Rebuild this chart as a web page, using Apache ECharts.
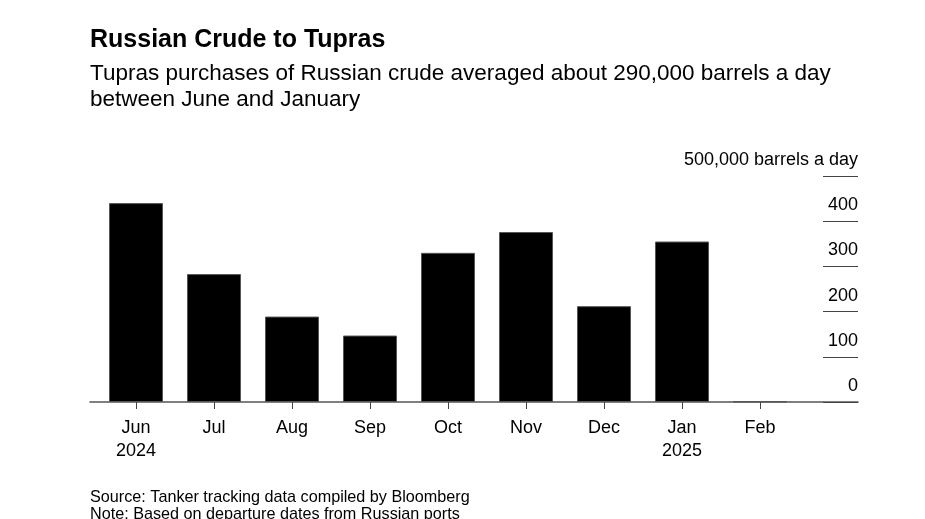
<!DOCTYPE html>
<html><head><meta charset="utf-8">
<script src="https://cdn.jsdelivr.net/npm/echarts@6/dist/echarts.min.js"></script>
<style>html,body{margin:0;padding:0;background:#fff}#c{width:925px;height:519px}</style>
</head><body><div id="c"></div>
<script>
const categories = ['Jun\n2024','Jul','Aug','Sep','Oct','Nov','Dec','Jan\n2025','Feb'];
const purchases = [440, 283, 189, 147, 330, 376, 212, 355, 1];
const yTicks = [0, 100, 200, 300, 400, 500];
const unitLabel = '500,000 barrels a day';
const FONT = 'Liberation Sans, Arial, sans-serif';

const chart = echarts.init(document.getElementById('c'));
chart.setOption({
  animation: false,
  backgroundColor: '#fff',
  title: [
    {text: 'Russian Crude to Tupras', left: 85, top: 23,
     textStyle: {fontFamily: FONT, fontSize: 25, fontWeight: 'bold', color: '#000'}},
    {text: 'Tupras purchases of Russian crude averaged about 290,000 barrels a day\nbetween June and January',
     left: 85, top: 56,
     textStyle: {fontFamily: FONT, fontSize: 22.5, fontWeight: 'normal', color: '#000', lineHeight: 26}},
    {text: 'Source: Tanker tracking data compiled by Bloomberg\nNote: Based on departure dates from Russian ports',
     left: 85, top: 484,
     textStyle: {fontFamily: FONT, fontSize: 16.2, fontWeight: 'normal', color: '#000', lineHeight: 17}}
  ],
  grid: [
    {left: 97, right: 126, top: 176, bottom: 117},
    {left: 90, right: 67, top: 176, bottom: 117}
  ],
  xAxis: [
    {type: 'category', gridIndex: 0, data: categories,
     axisLine: {show: false},
     axisTick: {show: true, alignWithLabel: true, length: 7, lineStyle: {color: '#444', width: 1}},
     axisLabel: {fontFamily: FONT, fontSize: 18, color: '#000', margin: 15, lineHeight: 23}},
    {type: 'value', gridIndex: 1, min: 0, max: 1,
     axisLine: {show: true, onZero: false, lineStyle: {color: '#555', width: 1.5}},
     axisTick: {show: false}, axisLabel: {show: false}, splitLine: {show: false}}
  ],
  yAxis: [
    {type: 'value', gridIndex: 0, min: 0, max: 500, show: false},
    {type: 'value', gridIndex: 1, position: 'right', min: 0, max: 500, interval: 100,
     axisLine: {show: false, onZero: false},
     axisTick: {show: true, inside: true, length: 35, lineStyle: {color: '#444', width: 1.2}},
     splitLine: {show: false},
     axisLabel: {inside: true, fontFamily: FONT, fontSize: 18, color: '#000',
       verticalAlign: 'bottom', padding: [0, 0, 7, 0], margin: 0,
       formatter: v => v === 500 ? unitLabel : String(v)}}
  ],
  series: [
    {type: 'bar', xAxisIndex: 0, yAxisIndex: 0, data: purchases, barWidth: 54,
     itemStyle: {color: '#000', borderColor: '#555', borderWidth: 1}}
  ]
});
</script></body></html>
